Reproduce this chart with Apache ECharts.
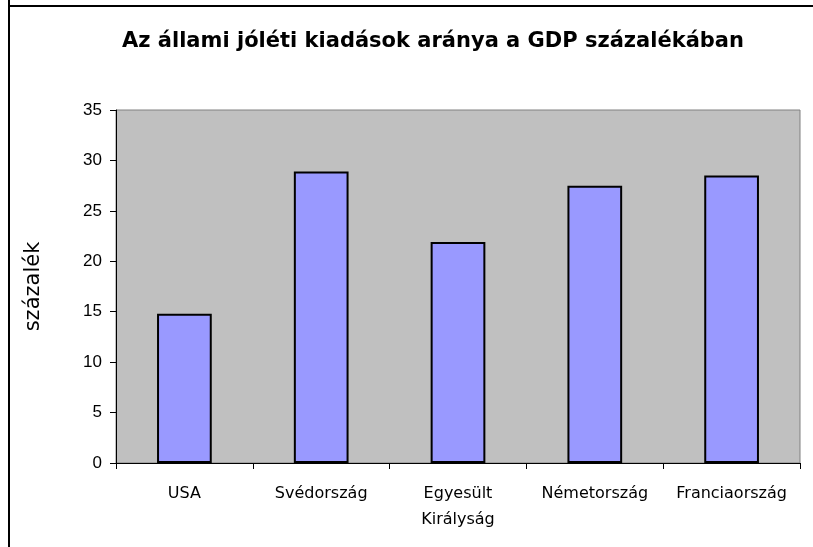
<!DOCTYPE html>
<html>
<head>
    <meta charset="utf-8">
    <title>Jóléti kiadások</title>
    <script src="https://cdn.jsdelivr.net/npm/echarts@6/dist/echarts.min.js"></script>
    <style>
        body { margin: 0; background: #fff; }
    </style>
</head>
<body>
    <div id="main" style="width: 813px;height:547px;"></div>
    <script type="text/javascript">
    var myChart = echarts.init(document.getElementById('main'));

    var countries = ['USA', 'Svédország', 'Egyesült\nKirályság', 'Németország', 'Franciaország'];
    var values = [14.8, 28.9, 21.9, 27.5, 28.5];
    var yTicks = [0, 5, 10, 15, 20, 25, 30, 35];

    var font = 'Liberation Sans, Arial, sans-serif';
    var wide = 'DejaVu Sans, sans-serif';

    option = {
        animation: false,
        title: {
            text: 'Az állami jóléti kiadások aránya a GDP százalékában',
            left: 428,
            textAlign: 'center',
            top: 26,
            textStyle: { fontFamily: wide, fontSize: 21, fontWeight: 'bold', color: '#000' }
        },
        grid: {
            left: 116, top: 110, right: 13, bottom: 84,
            show: true,
            backgroundColor: '#C0C0C0',
            borderColor: '#808080',
            borderWidth: 1
        },
        graphic: [
            { type: 'line', shape: { x1: 9, y1: 0, x2: 9, y2: 547 }, style: { stroke: '#000', lineWidth: 2 } },
            { type: 'line', shape: { x1: 9, y1: 6, x2: 813, y2: 6 }, style: { stroke: '#000', lineWidth: 2 } }
        ],
        xAxis: {
            type: 'category',
            data: countries,
            axisLine: { lineStyle: { color: '#000', width: 1 } },
            axisTick: { show: true, length: 6, lineStyle: { color: '#000' } },
            axisLabel: {
                interval: 0, margin: 18, color: '#000',
                fontFamily: wide, fontSize: 16, lineHeight: 26
            }
        },
        yAxis: {
            type: 'value',
            min: yTicks[0],
            max: yTicks[yTicks.length - 1],
            interval: 5,
            name: 'százalék',
            nameLocation: 'middle',
            nameGap: 72,
            nameTextStyle: { fontFamily: wide, fontSize: 21, color: '#000' },
            splitLine: { show: false },
            axisLine: { show: true, lineStyle: { color: '#000', width: 1 } },
            axisTick: { show: true, length: 6, lineStyle: { color: '#000' } },
            axisLabel: { margin: 14, color: '#000', fontFamily: font, fontSize: 17 }
        },
        series: [{
            type: 'bar',
            data: values,
            barWidth: '40%',
            itemStyle: { color: '#9999FF', borderColor: '#000', borderWidth: 2 }
        }]
    };

    myChart.setOption(option);
    </script>
</body>
</html>
